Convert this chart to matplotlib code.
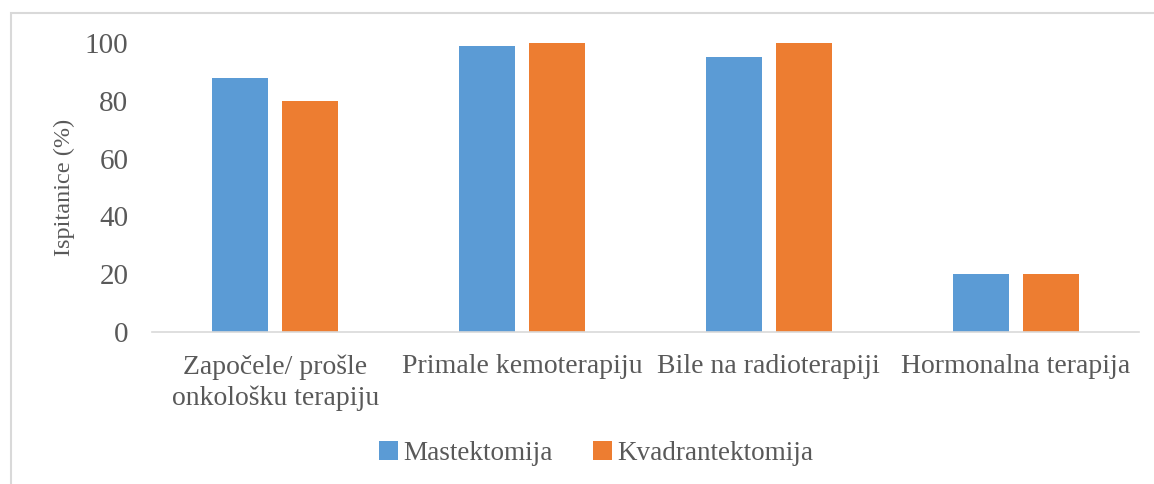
import matplotlib
matplotlib.use("Agg")
import matplotlib.pyplot as plt
import numpy as np
from matplotlib.patches import Rectangle

categories = ["Započele/ prošle\nonkološku terapiju", "Primale kemoterapiju",
              "Bile na radioterapiji", "Hormonalna terapija"]
mastektomija = [88, 99, 95, 20]
kvadrantektomija = [80, 100, 100, 20]
series_names = ["Mastektomija", "Kvadrantektomija"]
yticks = [0, 20, 40, 60, 80, 100]

plt.rcParams['font.family'] = ['Liberation Serif', 'DejaVu Serif']
txt = '#595959'

fig = plt.figure(figsize=(11.54, 4.84), dpi=100)
fig.patches.append(Rectangle((11.5/1154, -0.1), 1.2, 1 - 13/484 + 0.1,
                             transform=fig.transFigure, fill=False,
                             edgecolor='#d9d9d9', linewidth=1.5))
ax = fig.add_axes([152/1154, 1 - 332/484, (1139 - 152)/1154, (332 - 43)/484])

x = np.arange(len(categories))
w = 0.227
off = 0.142
b1 = ax.bar(x - off, mastektomija, w, color='#5b9bd5', label=series_names[0])
b2 = ax.bar(x + off, kvadrantektomija, w, color='#ed7d31', label=series_names[1])

ax.set_xlim(-0.5, len(categories) - 0.5)
ax.set_ylim(0, 100)
ax.set_yticks(yticks)
ax.set_xticks(x)
ax.set_xticklabels(categories, fontsize=20, color=txt, linespacing=1.3)
ax.tick_params(axis='y', labelsize=21, colors=txt, length=0, pad=17)
ax.tick_params(axis='x', length=0, pad=16)
for s in ['top', 'right', 'left']:
    ax.spines[s].set_visible(False)
ax.spines['bottom'].set_color('#d9d9d9')
ax.spines['bottom'].set_linewidth(1.2)
ax.set_ylabel("Ispitanice (%)", fontsize=17.5, color=txt, labelpad=7)

leg = fig.legend(handles=[b1, b2], labels=series_names, loc='center',
                 bbox_to_anchor=(596/1154, 1 - 453/484), ncol=2, frameon=False,
                 fontsize=19.5, handlelength=0.7, handleheight=0.7,
                 handletextpad=0.2, columnspacing=1.5)
for t in leg.get_texts():
    t.set_color(txt)

fig.savefig("out.png", dpi=100)
